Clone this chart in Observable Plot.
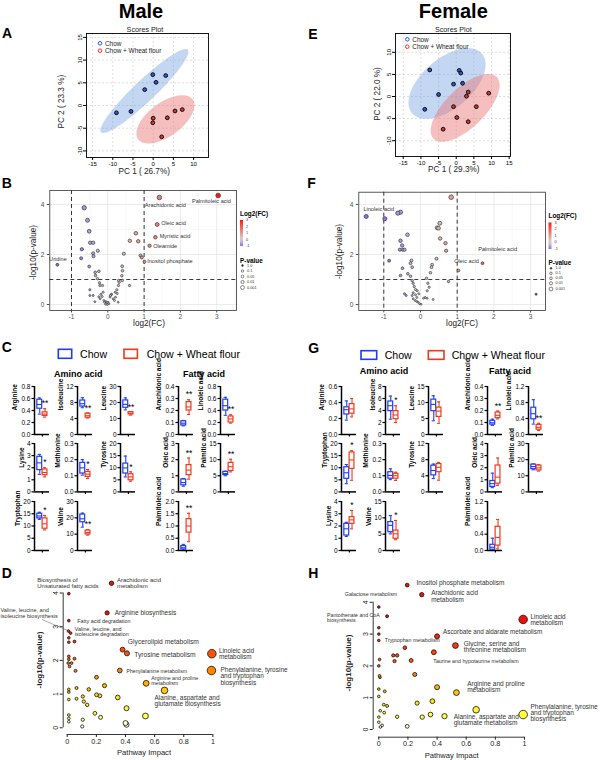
<!DOCTYPE html>
<html>
<head>
<meta charset="utf-8">
<script src="https://cdn.jsdelivr.net/npm/d3@7"></script>
<script src="https://cdn.jsdelivr.net/npm/@observablehq/plot@0.6"></script>
<style>
  html, body { margin: 0; padding: 0; background: #fff; }
  #fig { position: relative; width: 600px; height: 760px; overflow: hidden; background: #fff;
         font-family: "Liberation Sans", Arial, Helvetica, sans-serif; }
  #fig > svg { position: absolute; }
</style>
</head>
<body>
<div id="fig"></div>
<script>
// ---------------- Scores (PCA) ----------------
const maleChowScores   = [[-9.1,-1.6],[-5.5,-1.3],[-2.1,3.5],[0.7,5.1],[-0.1,6.8],[3.1,6.6]];
const maleWheatScores  = [[0.0,-2.8],[-0.1,-3.8],[2.1,-6.9],[3.5,-2.7],[5.4,-1.2],[7.2,-0.9]];
const femaleChowScores = [[-7.5,6.0],[0.85,5.9],[1.3,5.3],[-0.76,2.8],[1.8,3.0],[-5.0,0.45],[-8.9,-2.9]];
const femaleWheatScores= [[3.4,1.0],[2.9,0.07],[9.2,0.75],[-0.76,-2.3],[5.7,-2.3],[0.17,-4.75],[3.4,-5.7],[-3.7,-7.4]];
const maleScoreTicksX   = ["-15","-10","-5","0","5","10"];
const maleScoreTicksY   = ["-10","-5","0","5","10","15"];
const femaleScoreTicksX = ["-15","-10","-5","0","5","10","15"];
const femaleScoreTicksY = ["-10","-5","0","5","10"];

// ---------------- Volcano: [log2(FC), -log10(p)] ----------------
const maleVolcano = [
 [-0.651,3.87],[-0.559,3.37],[-0.513,2.93],[-0.486,2.47],[-0.403,2.47],[-0.715,2.21],[-0.275,2.15],
 [-0.403,2.05],[-0.394,1.93],[-0.734,1.85],[-0.513,1.52],[-0.348,1.29],[-0.247,1.33],[-0.339,1.16],
 [-0.284,1.03],[-0.229,0.87],[-0.220,0.76],[-0.146,0.76],[-0.495,0.59],[-0.128,0.49],[-0.495,0.36],
 [-0.403,0.36],[-0.247,0.31],[-0.357,0.11],[-0.210,0.23],[-0.155,0.32],[-0.109,0.16],[-0.054,0.12],
 [-0.017,0.07],[0.028,0.03],[0.074,0.36],[0.102,0.41],[0.148,0.23],[0.212,0.29],[0.203,0.49],
 [0.249,0.59],[0.295,0.76],[0.313,0.89],[0.300,0.96],[0.286,0.09],[0.400,0.96],[0.387,1.15],
 [0.405,1.35],[0.396,1.53],[0.598,0.76],[0.442,2.03],[0.607,2.55],[0.772,2.85],[0.837,2.53],
 [0.901,1.96],[0.937,1.88],[-0.091,0.09],[-0.063,0.01],[-0.017,0.0],[0.010,0.09],[-0.192,0.41],
 [0.185,0.16],[0.258,0.44],[0.060,0.30],[0.090,0.38]
];
const maleVolcanoNamed = [
 {name:"Palmitoleic acid", fc:3.04, p:4.36},
 {name:"Arachidonic acid", fc:1.42, p:4.28},
 {name:"Oleic acid", fc:1.36, p:3.20},
 {name:"Myristic acid", fc:1.31, p:2.69},
 {name:"Oleamide", fc:1.15, p:2.35},
 {name:"Inositol phosphate", fc:1.01, p:1.71},
 {name:"Uridine", fc:-1.39, p:1.59}
];
const femaleVolcano = [
 [0.836,4.29],[-0.972,3.43],[-0.618,3.65],[-0.545,3.69],[-0.354,2.79],[0.527,3.25],[0.454,3.07],
 [0.490,3.05],[0.536,2.64],[0.681,2.45],[0.699,2.15],[-0.545,2.55],[-0.500,2.36],[-0.563,2.19],
 [-0.481,2.19],[-0.436,2.19],[-0.854,1.75],[-0.245,1.76],[-0.272,1.65],[-0.227,1.49],[-0.490,1.45],
 [0.318,1.59],[0.300,1.49],[0.436,1.83],[1.035,1.36],[0.272,1.27],[-0.545,1.16],[-0.345,1.23],
 [-0.272,1.13],[0.163,1.05],[-0.227,0.96],[-0.200,0.85],[0.200,0.85],[0.236,0.69],[0.763,0.92],
 [-0.172,0.72],[-0.136,0.60],[-0.090,0.55],[0.182,0.55],[-0.436,0.43],[-0.390,0.36],[-0.200,0.47],
 [-0.136,0.39],[-0.100,0.28],[-0.045,0.43],[0.082,0.25],[0.182,0.25],[0.127,0.28],[0.345,0.20],
 [-0.200,0.23],[-0.145,0.16],[-0.063,0.09],[-0.027,0.03],[0.018,0.01],[-0.100,0.12],[-0.227,0.36]
];
const femaleVolcanoNamed = [
 {name:"Linoleic acid", fc:-1.48, p:3.52},
 {name:"Oleic acid", fc:1.69, p:1.65},
 {name:"Palmitoleic acid", fc:3.15, p:0.41}
];
const volcanoTicksX = ["-1","0","1","2","3"];
const volcanoTicksY = ["0","2","4"];
const volcanoMinorX = [-1.5,-0.5,0.5,1.5,2.5,3.5];
const volcanoMinorY = [1,3];
const fcCutoffs = [-1, 1];
const pCutoff = [1];
const fcLegendTicks = ["3","2","1","0","-1"];
const pLegendValues = ["1.0","0.1","0.05","0.01","0.001"];

// ---------------- Box plots: [min, Q1, median, Q3, max] ----------------
const maleAmino = [
 {name:"Arginine",   ticks:["0.0","0.2","0.4","0.6","0.8"], chow:[0.34,0.43,0.50,0.58,0.61], wheat:[0.29,0.31,0.34,0.37,0.43], sig:"**"},
 {name:"Isoleucine", ticks:["0","4","8","12"],              chow:[6.7,7.0,7.7,8.5,9.2],       wheat:[4.1,4.2,4.7,5.2,5.4],       sig:"**"},
 {name:"Leucine",    ticks:["0","10","20","30"],            chow:[15.4,16.7,18.8,21.3,22.9],  wheat:[12.1,12.5,13.3,14.0,14.2],  sig:"**"},
 {name:"Lysine",     ticks:["0","1","2","3","4"],           chow:[1.45,1.8,2.4,2.9,3.1],      wheat:[1.24,1.38,1.6,1.85,2.0],    sig:"*"},
 {name:"Methionine", ticks:["0.0","0.1","0.2","0.3"],       chow:[0.104,0.114,0.149,0.18,0.2],wheat:[0.083,0.093,0.11,0.124,0.139], sig:"*"},
 {name:"Tyrosine",   ticks:["0","5","10","15","20"],        chow:[6.2,7.6,9.9,11.7,14.8],     wheat:[4.4,4.8,6.2,7.3,8.3],       sig:"*"},
 {name:"Tryptophan", ticks:["0","5","10","15","20"],        chow:[12.7,13.1,14.1,15.0,15.6],  wheat:[8.4,8.9,10.9,13.1,14.3],    sig:"*"},
 {name:"Valine",     ticks:["0","10","20","30"],            chow:[14.3,17.3,19.4,22.0,22.9],  wheat:[9.4,9.8,11.0,12.2,12.7],    sig:"**"}
];
const maleFatty = [
 {name:"Arachidonic acid", ticks:["0.0","0.1","0.2","0.3","0.4"], chow:[0.072,0.075,0.094,0.11,0.117], wheat:[0.167,0.20,0.23,0.27,0.29], sig:"**"},
 {name:"Linoleic acid",    ticks:["0.0","0.2","0.4","0.6","0.8"], chow:[0.32,0.40,0.48,0.58,0.62],    wheat:[0.19,0.20,0.26,0.30,0.33],  sig:"**"},
 {name:"Oleic acid",       ticks:["0","1","2","3"],               chow:[0.35,0.41,0.58,0.77,0.83],    wheat:[0.79,1.04,1.35,1.66,2.1],   sig:"**"},
 {name:"Palmitic acid",    ticks:["0","5","10","15"],             chow:[5.0,5.2,5.7,6.2,6.4],         wheat:[6.2,6.5,7.8,9.0,10.1],      sig:"**"},
 {name:"Palmitoleic acid", ticks:["0.0","0.5","1.0","1.5","2.0"], chow:[0.01,0.04,0.11,0.18,0.25],    wheat:[0.36,0.73,1.0,1.28,1.52],   sig:"**"}
];
const femaleAmino = [
 {name:"Arginine",   ticks:["0.0","0.2","0.4","0.6"],  chow:[0.18,0.25,0.31,0.34,0.42],   wheat:[0.22,0.26,0.32,0.38,0.45],   sig:""},
 {name:"Isoleucine", ticks:["0","2","4","6","8"],      chow:[2.55,3.9,4.8,5.5,6.4],       wheat:[2.0,2.55,3.25,3.9,4.8],      sig:"*"},
 {name:"Leucine",    ticks:["0","5","10","15"],        chow:[4.3,7.3,9.4,10.9,12.1],      wheat:[3.5,5.5,7.3,8.4,10.2],       sig:""},
 {name:"Tryptophan", ticks:["0","5","10","15","20"],   chow:[3.4,5.4,7.9,10.2,11.3],      wheat:[4.8,9.5,13.2,16.3,17.0],     sig:"*"},
 {name:"Methionine", ticks:["0.0","0.1","0.2","0.3"],  chow:[0.076,0.082,0.102,0.122,0.143], wheat:[0.071,0.082,0.1,0.112,0.122], sig:""},
 {name:"Tyrosine",   ticks:["0","4","8","12"],         chow:[3.3,4.1,5.3,6.5,6.9],        wheat:[2.9,4.9,6.1,6.9,7.3],        sig:""},
 {name:"Lysine",     ticks:["0","1","2","3","4"],      chow:[1.15,1.22,1.77,2.18,2.3],    wheat:[1.77,2.18,2.5,2.72,3.27],    sig:"*"},
 {name:"Valine",     ticks:["0","5","10","15"],        chow:[5.1,5.6,7.7,8.7,10.7],       wheat:[3.3,3.6,5.1,6.1,9.2],        sig:"*"}
];
const femaleFatty = [
 {name:"Arachidonic acid", ticks:["0.0","0.1","0.2","0.3","0.4"], chow:[0.076,0.082,0.098,0.114,0.128], wheat:[0.13,0.136,0.16,0.183,0.196], sig:"**"},
 {name:"Linoleic acid",    ticks:["0.0","0.4","0.8","1.2"],       chow:[0.26,0.38,0.52,0.67,0.87],      wheat:[0.1,0.12,0.18,0.24,0.28],     sig:"**"},
 {name:"Oleic acid",       ticks:["0","1","2","3","4"],           chow:[0.35,0.41,0.68,0.9,1.55],       wheat:[0.54,0.68,1.22,2.18,2.8],     sig:""},
 {name:"Palmitic acid",    ticks:["0","10","20","30"],            chow:[13.7,14.1,15.7,16.9,17.3],      wheat:[12.9,13.3,14.9,16.3,16.9],    sig:""},
 {name:"Palmitoleic acid", ticks:["0.0","0.4","0.8","1.2"],       chow:[0.0,0.02,0.08,0.14,0.3],        wheat:[0.04,0.12,0.32,0.58,0.76],    sig:""}
];

// ---------------- Pathway impact: [impact, -log10(p)] ----------------
const malePathwaysNamed = [
 {name:"Arachidonic acid\nmetabolism", impact:0.304, p:4.29},
 {name:"Biosynthesis of\nUnsaturated fatty acids", impact:0.011, p:3.98},
 {name:"Arginine biosynthesis", impact:0.274, p:3.41},
 {name:"Fatty acid degradation", impact:0.011, p:3.18},
 {name:"Valine, leucine, and\nisoleucine biosynthesis", impact:0.009, p:2.87},
 {name:"Valine, leucine, and\nisoleucine degradation", impact:0.023, p:2.81},
 {name:"Glycerolipid metabolism", impact:0.380, p:2.32},
 {name:"Tyrosine metabolism", impact:0.410, p:2.21},
 {name:"Linoleic acid\nmetabolism", impact:0.993, p:2.20},
 {name:"Phenylalanine metabolism", impact:0.361, p:1.70},
 {name:"Phenylalanine, tyrosine\nand tryptophan\nbiosynthesis", impact:0.990, p:1.70},
 {name:"Arginine and proline\nmetabolism", impact:0.542, p:1.32},
 {name:"Alanine, aspartate and\nglutamate biosynthesis", impact:0.668, p:1.11}
];
const malePathwaysOther = [
 [0.011,2.67],[0.011,2.54],[0.050,2.56],[0.011,2.12],[0.011,2.03],[0.050,2.05],[0.007,1.92],[0.030,1.92],
 [0.016,1.82],[0.057,1.69],[0.201,1.50],[0.256,1.25],[0.064,1.18],[0.148,1.14],[0.011,1.14],[0.011,1.06],
 [0.201,0.98],[0.224,0.95],[0.107,0.93],[0.347,0.90],[0.064,0.86],[0.011,0.84],[0.114,0.78],[0.137,0.68],
 [0.407,0.58],[0.190,0.43],[0.229,0.31],[0.537,0.35],[0.011,0.38],[0.011,0.28],[0.011,0.18],[0.107,0.24],
 [0.103,0.04],[0.400,0.14],[0.407,0.09]
];
const femalePathwaysNamed = [
 {name:"Inositol phosphate metabolism", impact:0.195, p:4.54},
 {name:"Galactose metabolism", impact:0.0, p:3.85},
 {name:"Arachidonic acid\nmetabolism", impact:0.295, p:4.24},
 {name:"Pantothenate and CoA\nbiosynthesis", impact:0.057, p:3.56},
 {name:"Linoleic acid\nmetabolism", impact:0.991, p:3.46},
 {name:"Ascorbate and aldarate metabolism", impact:0.400, p:2.93},
 {name:"Tryptophan metabolism", impact:0.179, p:2.57},
 {name:"Glycine, serine and\nthreonine metabolism", impact:0.526, p:2.64},
 {name:"Taurine and hypotaurine metabolism", impact:0.378, p:2.43},
 {name:"Arginine and proline\nmetabolism", impact:0.533, p:1.16},
 {name:"Alanine, aspartate and\nglutamate metabolism", impact:0.668, p:0.62},
 {name:"Phenylalanine, tyrosine\nand tryptophan\nbiosynthesis", impact:0.991, p:0.47}
];
const femalePathwaysOther = [
 [0.0,3.20],[0.0,3.00],[0.0,2.80],[0.099,2.33],[0.126,2.33],[0.108,2.15],[0.222,2.17],[0.005,2.20],
 [0.0,2.00],[0.005,1.69],[0.008,1.64],[0.247,1.73],[0.0,1.27],[0.041,1.20],[0.400,1.33],[0.0,1.04],
 [0.034,0.78],[0.057,0.74],[0.263,0.83],[0.368,0.89],[0.010,0.59],[0.037,0.53],[0.355,0.47],[0.451,0.42],
 [0.126,0.40],[0.298,0.39],[0.0,0.39],[0.0,0.23],[0.023,0.13],[0.011,0.08],[0.195,0.10]
];
const pathwayTicksX = ["0","0.2","0.4","0.6","0.8","1"];
const pathwayTicksY = ["0","1","2","3","4"];

// ================= drawing =================
const FONT = '"Liberation Sans", Arial, Helvetica, sans-serif';
const BLUE = "#1f3df5", RED = "#f2381d";
const FC_DOMAIN = [-1, 0, 3];
const FC_COLORS = ["#8c6fe0", "#d6d6d6", "#ff1a12"];
const HEAT_DOMAIN = [0.05, 0.4, 0.9, 1.3, 1.7, 2.3, 3.4];
const HEAT_COLORS = ["#ffffff", "#ffff45", "#ffe21a", "#ffb300", "#ff8400", "#ff4a0a", "#ea1208"];
const fig = document.getElementById("fig");
const baseStyle = () => ({background: "transparent", overflow: "visible", fontFamily: FONT});
function place(svg, left, top) {
  svg.style.position = "absolute"; svg.style.left = left + "px"; svg.style.top = top + "px";
  fig.appendChild(svg); return svg;
}
const labelMap = (labels) => new Map(labels.map(s => [Number(s), s]));

// 95% normal-theory confidence ellipse of a group of score points
function ellipse95(pts) {
  const n = pts.length;
  const mx = d3.mean(pts, d => d[0]), my = d3.mean(pts, d => d[1]);
  let sxx = 0, syy = 0, sxy = 0;
  for (const [x, y] of pts) { sxx += (x - mx) ** 2; syy += (y - my) ** 2; sxy += (x - mx) * (y - my); }
  sxx /= n - 1; syy /= n - 1; sxy /= n - 1;
  const tr = sxx + syy, det = sxx * syy - sxy * sxy;
  const disc = Math.sqrt(Math.max(0, tr * tr / 4 - det));
  const l1 = tr / 2 + disc, l2 = Math.max(0, tr / 2 - disc);
  let v = Math.abs(sxy) > 1e-12 ? [l1 - syy, sxy] : (sxx >= syy ? [1, 0] : [0, 1]);
  const len = Math.hypot(v[0], v[1]); v = [v[0] / len, v[1] / len];
  const w = [-v[1], v[0]], k = Math.sqrt(5.991);
  return d3.range(0, 121).map(i => {
    const t = 2 * Math.PI * i / 120;
    const a = k * Math.sqrt(l1) * Math.cos(t), b = k * Math.sqrt(l2) * Math.sin(t);
    return [mx + a * v[0] + b * w[0], my + a * v[1] + b * w[1]];
  });
}

function scoresPlot(chow, wheat, ticksX, ticksY, g) {
  const xt = ticksX.map(Number), yt = ticksY.map(Number);
  const fx = labelMap(ticksX), fy = labelMap(ticksY);
  return Plot.plot({
    width: g.w, height: g.h, marginLeft: g.ml, marginRight: g.mr, marginTop: g.mt, marginBottom: g.mb,
    x: {domain: g.xd}, y: {domain: g.yd}, style: baseStyle(),
    marks: [
      Plot.ruleX(xt, {stroke: "#c8c8c8", strokeWidth: 0.6, strokeDasharray: "2,2"}),
      Plot.ruleY(yt, {stroke: "#c8c8c8", strokeWidth: 0.6, strokeDasharray: "2,2"}),
      Plot.line(ellipse95(chow), {x: d => d[0], y: d => d[1], fill: "#6a9be0", fillOpacity: 0.4, stroke: "none"}),
      Plot.line(ellipse95(wheat), {x: d => d[0], y: d => d[1], fill: "#e87070", fillOpacity: 0.45, stroke: "none"}),
      Plot.dot(chow, {x: d => d[0], y: d => d[1], r: 1.9, fill: "#3a55c8", stroke: "#000", strokeWidth: 0.9}),
      Plot.dot(wheat, {x: d => d[0], y: d => d[1], r: 1.9, fill: "#c83a3a", stroke: "#000", strokeWidth: 0.9}),
      Plot.frame({stroke: "#000", strokeWidth: 0.9}),
      Plot.axisX({ticks: xt, tickFormat: d => fx.get(d), tickSize: 3, tickPadding: 1.5, fontSize: 6, label: null}),
      Plot.axisY({ticks: yt, tickFormat: d => fy.get(d), tickSize: 3, tickPadding: 2, tickRotate: -90, fontSize: 6, label: null})
    ]
  });
}

function volcanoPlot(points, named, layout, g) {
  const all = points.map(([fc, p]) => ({fc, p})).concat(named);
  const xt = volcanoTicksX.map(Number), yt = volcanoTicksY.map(Number);
  const fx = labelMap(volcanoTicksX), fy = labelMap(volcanoTicksY);
  return Plot.plot({
    width: g.w, height: g.h, marginLeft: g.ml, marginRight: g.mr, marginTop: g.mt, marginBottom: g.mb,
    x: {domain: g.xd}, y: {domain: g.yd}, style: baseStyle(),
    color: {type: "linear", domain: FC_DOMAIN, range: FC_COLORS, clamp: true},
    r: {type: "linear", domain: [0, 4.5], range: [0.9, 2.4]},
    marks: [
      Plot.ruleX(volcanoMinorX, {stroke: "#f1f1f1", strokeWidth: 0.5}),
      Plot.ruleY(volcanoMinorY, {stroke: "#f1f1f1", strokeWidth: 0.5}),
      Plot.ruleX(xt, {stroke: "#e2e2e2", strokeWidth: 0.7}),
      Plot.ruleY(yt, {stroke: "#e2e2e2", strokeWidth: 0.7}),
      Plot.ruleX(fcCutoffs, {stroke: "#222", strokeWidth: 0.9, strokeDasharray: "4,3"}),
      Plot.ruleY(pCutoff, {stroke: "#222", strokeWidth: 0.9, strokeDasharray: "4,3"}),
      Plot.dot(all, {x: "fc", y: "p", r: "p", fill: "fc", stroke: "#222", strokeWidth: 0.6}),
      ...named.map(d => {
        const L = layout[d.name];
        return Plot.text([d], {x: "fc", y: "p", text: "name", textAnchor: L.a, dx: L.dx, dy: L.dy, fontSize: 5.6, fill: "#333"});
      }),
      Plot.frame({stroke: "#333", strokeWidth: 0.8}),
      Plot.axisX({ticks: xt, tickFormat: d => fx.get(d), tickSize: 2.5, tickPadding: 1.5, fontSize: 6.5, color: "#4d4d4d", label: null}),
      Plot.axisY({ticks: yt, tickFormat: d => fy.get(d), tickSize: 2.5, tickPadding: 3, fontSize: 6.5, color: "#4d4d4d", label: null})
    ]
  });
}

function boxPanel(spec, axisLeft, rowTop, rowBottom) {
  const ticks = spec.ticks.map(Number), fy = labelMap(spec.ticks);
  const ymax = d3.max(ticks);
  const groups = [{g: 1, v: spec.chow, c: BLUE}, {g: 2, v: spec.wheat, c: RED}];
  const mt = 8, mb = 7, ml = 32, mr = 14, inner = 15;
  const labelGap = d3.max(spec.ticks, s => s.length) * 3.6 + 9;
  const svg = Plot.plot({
    width: ml + inner + mr, height: (rowBottom - rowTop) + mt + mb,
    marginLeft: ml, marginRight: mr, marginTop: mt, marginBottom: mb,
    x: {domain: [0, 2.85]}, y: {domain: [0, ymax]}, color: {type: "identity"},
    style: baseStyle(),
    marks: [
      Plot.ruleX(groups, {x: "g", y1: d => d.v[0], y2: d => d.v[1], stroke: "c", strokeWidth: 1.1}),
      Plot.ruleX(groups, {x: "g", y1: d => d.v[3], y2: d => d.v[4], stroke: "c", strokeWidth: 1.1}),
      Plot.ruleY(groups, {y: d => d.v[0], x1: d => d.g - 0.3, x2: d => d.g + 0.3, stroke: "c", strokeWidth: 1.1}),
      Plot.ruleY(groups, {y: d => d.v[4], x1: d => d.g - 0.3, x2: d => d.g + 0.3, stroke: "c", strokeWidth: 1.1}),
      Plot.rect(groups, {x1: d => d.g - 0.46, x2: d => d.g + 0.46, y1: d => d.v[1], y2: d => d.v[3], fill: "white", stroke: "c", strokeWidth: 1.2}),
      Plot.ruleY(groups, {y: d => d.v[2], x1: d => d.g - 0.46, x2: d => d.g + 0.46, stroke: "c", strokeWidth: 1.1}),
      Plot.ruleX([0], {stroke: "#000", strokeWidth: 1.5}),
      Plot.ruleY([0], {stroke: "#000", strokeWidth: 1.5}),
      Plot.axisY({ticks, tickFormat: d => fy.get(d), tickSize: 2.5, tickPadding: 1.5, fontSize: 6.5, strokeWidth: 1.2, color: "#000", label: null}),
      Plot.axisX({ticks: [1.5], tickFormat: () => "", tickSize: 2.5, strokeWidth: 1.2, color: "#000", label: null}),
      spec.sig ? Plot.text([spec.sig], {x: () => 2, y: () => spec.wheat[4], text: d => d, dy: -5, fontSize: 8.5, fill: "#000"}) : null,
      Plot.text([spec.name], {frameAnchor: "left", rotate: -90, dx: -labelGap, text: d => d, fontWeight: "bold", fontSize: 6.5, fill: "#000"})
    ]
  });
  return place(svg, axisLeft - ml, rowTop - mt);
}

function pathwayPlot(named, others, layout, g) {
  const all = others.map(([impact, p]) => ({impact, p})).concat(named);
  const xt = pathwayTicksX.map(Number), yt = pathwayTicksY.map(Number);
  const fx = labelMap(pathwayTicksX), fy = labelMap(pathwayTicksY);
  return Plot.plot({
    width: g.w, height: g.h, marginLeft: g.ml, marginRight: g.mr, marginTop: g.mt, marginBottom: g.mb,
    x: {domain: g.xd}, y: {domain: g.yd}, style: baseStyle(),
    color: {type: "linear", domain: HEAT_DOMAIN, range: HEAT_COLORS, clamp: true},
    r: {type: "linear", domain: [0, 1], range: [1.3, 4.3]},
    marks: [
      Plot.ruleX([g.xd[0]], {y1: yt[0], y2: yt[yt.length - 1], stroke: "#222", strokeWidth: 0.9}),
      Plot.ruleY([g.yd[0]], {x1: xt[0], x2: xt[xt.length - 1], stroke: "#222", strokeWidth: 0.9}),
      Plot.axisY({ticks: yt, tickFormat: d => fy.get(d), tickSize: 3, tickPadding: 2.5, tickRotate: -90, fontSize: 7, color: "#222", label: null}),
      Plot.axisX({ticks: xt, tickFormat: d => fx.get(d), tickSize: 3, tickPadding: 1, fontSize: 7.2, color: "#222", label: null}),
      Plot.dot(all, {x: "impact", y: "p", r: "impact", fill: "p", stroke: "#111", strokeWidth: 0.8}),
      ...named.map(d => {
        const L = layout[d.name];
        return Plot.text([d], {x: "impact", y: "p", text: "name", textAnchor: L.a, dx: L.dx, dy: L.dy, fontSize: L.s, lineHeight: 0.95, fill: "#333"});
      })
    ]
  });
}

// ---- A / E : PCA scores ----
place(scoresPlot(maleChowScores, maleWheatScores, maleScoreTicksX, maleScoreTicksY,
  {w: 180, h: 160, ml: 46, mr: 12, mt: 13, mb: 23, xd: [-16.51, 13.69], yd: [-11.45, 15.86]}), 40, 20);
place(scoresPlot(femaleChowScores, femaleWheatScores, femaleScoreTicksX, femaleScoreTicksY,
  {w: 170, h: 160, ml: 45, mr: 10, mt: 13, mb: 24, xd: [-17.2, 15.38], yd: [-13.57, 14.25]}), 350, 20);

// ---- B / F : volcano ----
const maleVolcanoLayout = {
  "Palmitoleic acid": {a: "middle", dx: -6.7, dy: 5.7},
  "Arachidonic acid": {a: "middle", dx: 6, dy: 7.3},
  "Oleic acid": {a: "start", dx: 4, dy: -1.3},
  "Myristic acid": {a: "start", dx: 4.3, dy: -0.7},
  "Oleamide": {a: "start", dx: 3.7, dy: 0.7},
  "Inositol phosphate": {a: "start", dx: 2.7, dy: -0.3},
  "Uridine": {a: "middle", dx: 0.6, dy: -6}
};
const femaleVolcanoLayout = {
  "Linoleic acid": {a: "middle", dx: 12.6, dy: -7.7},
  "Oleic acid": {a: "end", dx: -3.7, dy: -1.7},
  "Palmitoleic acid": {a: "middle", dx: -38.5, dy: -45.4}
};
place(volcanoPlot(maleVolcano, maleVolcanoNamed, maleVolcanoLayout,
  {w: 230, h: 145, ml: 29.3, mr: 14, mt: 10, mb: 15, xd: [-1.598, 3.545], yd: [-0.24, 4.56]}), 20, 180);
place(volcanoPlot(femaleVolcano, femaleVolcanoNamed, femaleVolcanoLayout,
  {w: 225, h: 145, ml: 28.3, mr: 10, mt: 11.7, mb: 15, xd: [-1.681, 3.406], yd: [-0.24, 4.49]}), 330, 180);

// ---- C / G : box plots ----
const rows = [[386, 434], [443.3, 491.7], [501, 550]];
const maleAminoCols = [34.3, 77.3, 120], maleFattyCols = [178.3, 220];
const femaleAminoCols = [341, 385, 428.3], femaleFattyCols = [486.7, 528.3];
maleAmino.forEach((s, i) => boxPanel(s, maleAminoCols[i % 3], ...rows[Math.floor(i / 3)]));
maleFatty.forEach((s, i) => boxPanel(s, maleFattyCols[i % 2], ...rows[Math.floor(i / 2)]));
femaleAmino.forEach((s, i) => boxPanel(s, femaleAminoCols[i % 3], ...rows[Math.floor(i / 3)]));
femaleFatty.forEach((s, i) => boxPanel(s, femaleFattyCols[i % 2], ...rows[Math.floor(i / 2)]));

// ---- D / H : pathway impact ----
const malePathLayout = {
  "Arachidonic acid\nmetabolism": {a: "start", dx: 5.5, dy: 0, s: 6},
  "Biosynthesis of\nUnsaturated fatty acids": {a: "start", dx: -31.6, dy: -10.8, s: 6},
  "Arginine biosynthesis": {a: "start", dx: 7.6, dy: 0, s: 6.5},
  "Valine, leucine, and\nisoleucine biosynthesis": {a: "start", dx: -68, dy: -17.7, s: 5.6},
  "Fatty acid degradation": {a: "start", dx: 8.4, dy: 1, s: 5.4},
  "Valine, leucine, and\nisoleucine degradation": {a: "start", dx: 4.3, dy: -1, s: 5.4},
  "Glycerolipid metabolism": {a: "start", dx: 5.3, dy: -7.3, s: 6.7},
  "Tyrosine metabolism": {a: "start", dx: 7.3, dy: 1.3, s: 6.7},
  "Linoleic acid\nmetabolism": {a: "start", dx: 7, dy: 0, s: 6.4},
  "Phenylalanine metabolism": {a: "start", dx: 6.7, dy: 0.7, s: 5.2},
  "Phenylalanine, tyrosine\nand tryptophan\nbiosynthesis": {a: "start", dx: 9, dy: 6, s: 6.5},
  "Arginine and proline\nmetabolism": {a: "start", dx: 5, dy: -2.7, s: 5.3},
  "Alanine, aspartate and\nglutamate biosynthesis": {a: "start", dx: -10, dy: 10.5, s: 6.5}
};
const femalePathLayout = {
  "Inositol phosphate metabolism": {a: "start", dx: 9.3, dy: -2, s: 6.5},
  "Galactose metabolism": {a: "middle", dx: -7.8, dy: -12.4, s: 5.3},
  "Arachidonic acid\nmetabolism": {a: "start", dx: 9.4, dy: 1.9, s: 6.4},
  "Pantothenate and CoA\nbiosynthesis": {a: "start", dx: -60, dy: 1.2, s: 5.2},
  "Linoleic acid\nmetabolism": {a: "start", dx: 7.3, dy: 0.5, s: 6.4},
  "Ascorbate and aldarate metabolism": {a: "start", dx: 6, dy: -4, s: 6.3},
  "Tryptophan metabolism": {a: "start", dx: -20, dy: -7, s: 5.3},
  "Glycine, serine and\nthreonine metabolism": {a: "start", dx: 8.3, dy: 1.7, s: 6.5},
  "Taurine and hypotaurine metabolism": {a: "start", dx: -0.6, dy: 9.3, s: 5.3},
  "Arginine and proline\nmetabolism": {a: "start", dx: 10.7, dy: -5.3, s: 6.5},
  "Alanine, aspartate and\nglutamate metabolism": {a: "start", dx: -22.4, dy: 10.4, s: 6.5},
  "Phenylalanine, tyrosine\nand tryptophan\nbiosynthesis": {a: "start", dx: 7.3, dy: -1.6, s: 6.5}
};
const plotD = place(pathwayPlot(malePathwaysNamed, malePathwaysOther, malePathLayout,
  {w: 300, h: 195, ml: 62.7, mr: 82, mt: 7.3, mb: 26, xd: [-0.0275, 1.0384], yd: [-0.199, 4.6]}), 0, 565);
place(pathwayPlot(femalePathwaysNamed, femalePathwaysOther, femalePathLayout,
  {w: 300, h: 195, ml: 72.7, mr: 70.2, mt: 17.7, mb: 23.3, xd: [-0.0384, 1.04], yd: [-0.242, 4.6]}), 300, 565);

// ================= titles, axis titles and legends =================
const ov = d3.create("svg").attr("width", 600).attr("height", 760)
  .style("position", "absolute").style("left", "0px").style("top", "0px")
  .style("overflow", "visible").style("font-family", FONT);
function T(x, y, s, o = {}) {
  const t = ov.append("text").attr("x", x).attr("y", y).text(s)
    .attr("font-size", o.size || 8).attr("fill", o.fill || "#000");
  if (o.bold) t.attr("font-weight", "bold");
  if (o.anchor) t.attr("text-anchor", o.anchor);
  if (o.baseline) t.attr("dominant-baseline", o.baseline);
  if (o.rotate) t.attr("transform", `rotate(${o.rotate},${x},${y})`);
  return t;
}
T(141, 18, "Male", {size: 20, bold: true, anchor: "middle"});
T(453.3, 18, "Female", {size: 20, bold: true, anchor: "middle"});
[["A", 2, 38.3], ["E", 308.3, 39.3], ["B", 1.7, 188.3], ["F", 307.3, 188.3],
 ["C", 1.7, 351.7], ["G", 308.3, 352.7], ["D", 1.7, 578.3], ["H", 308.3, 578.3]]
  .forEach(([s, x, y]) => T(x, y, s, {size: 14, bold: true}));

// scores titles / legends / axis titles
T(145, 31.7, "Scores Plot", {size: 7.2, anchor: "middle", fill: "#222"});
T(453.3, 31.7, "Scores Plot", {size: 7.2, anchor: "middle", fill: "#222"});
function scoresLegend(x, y1, y2) {
  ov.append("circle").attr("cx", x).attr("cy", y1).attr("r", 1.8).attr("fill", "none").attr("stroke", "#1e5cff").attr("stroke-width", 1);
  ov.append("circle").attr("cx", x).attr("cy", y2).attr("r", 1.8).attr("fill", "none").attr("stroke", "#ff2a2a").attr("stroke-width", 1);
  T(x + 5, y1, "Chow", {size: 6.4, baseline: "central", fill: "#222"});
  T(x + 5, y2, "Chow + Wheat flour", {size: 6.4, baseline: "central", fill: "#222"});
}
scoresLegend(100, 43.3, 50.7);
scoresLegend(407.3, 39.3, 46.7);
T(144.2, 174, "PC 1 ( 26.7%)", {size: 8.2, anchor: "middle", fill: "#222"});
T(453.8, 172, "PC 1 ( 29.3%)", {size: 8.2, anchor: "middle", fill: "#222"});
T(61.7, 101.7, "PC 2 ( 23.3 %)", {size: 8.2, anchor: "middle", baseline: "central", rotate: -90, fill: "#222"});
T(377, 94, "PC 2 ( 22.0 %)", {size: 8.2, anchor: "middle", baseline: "central", rotate: -90, fill: "#222"});

// volcano axis titles and legends
T(33, 252.5, "-log10(p-value)", {size: 8.2, anchor: "middle", baseline: "central", rotate: -90, fill: "#222"});
T(339.3, 251.5, "-log10(p-value)", {size: 8.2, anchor: "middle", baseline: "central", rotate: -90, fill: "#222"});
T(149, 326, "log2(FC)", {size: 8.2, anchor: "middle", fill: "#222"});
T(462, 326, "log2(FC)", {size: 8.2, anchor: "middle", fill: "#222"});
const fcColor = d3.scaleLinear().domain(FC_DOMAIN).range(FC_COLORS).clamp(true);
const grad = ov.append("defs").append("linearGradient").attr("id", "fcgrad")
  .attr("x1", 0).attr("y1", 0).attr("x2", 0).attr("y2", 1);
d3.range(0, 1.0001, 0.1).forEach(t => grad.append("stop").attr("offset", t).attr("stop-color", fcColor(3 - 4 * t)));
const pRadius = d3.scaleLinear().domain([0, 4.5]).range([0.9, 2.4]);
function volcanoLegend(x, yt1, barTop, barBottom, yt2, ys) {
  T(x, yt1, "Log2(FC)", {size: 6.4, bold: true});
  ov.append("rect").attr("x", x).attr("y", barTop).attr("width", 3).attr("height", barBottom - barTop).attr("fill", "url(#fcgrad)");
  fcLegendTicks.forEach(s => T(x + 6, barTop + (3 - Number(s)) / 4 * (barBottom - barTop), s, {size: 3.8, baseline: "central", fill: "#333"}));
  T(x, yt2, "P-value", {size: 6.4, bold: true});
  pLegendValues.forEach((s, i) => {
    ov.append("circle").attr("cx", x + 2.5).attr("cy", ys[i]).attr("r", pRadius(-Math.log10(Number(s))))
      .attr("fill", i === 0 ? "#333" : "#fff").attr("stroke", "#333").attr("stroke-width", 0.6);
    T(x + 7, ys[i], s, {size: 3.8, baseline: "central", fill: "#333"});
  });
}
volcanoLegend(240, 216, 220, 246, 262.5, [265.5, 271, 276.5, 282, 287.5]);
volcanoLegend(548.5, 218.3, 222.5, 249, 264.5, [268.3, 273.3, 278.3, 283.3, 289]);

// box-plot legends and group headings
function boxLegend(x1, x2, t1, t2, y, w, h) {
  ov.append("rect").attr("x", x1).attr("y", y).attr("width", w).attr("height", h).attr("fill", "none").attr("stroke", BLUE).attr("stroke-width", 1.6);
  ov.append("rect").attr("x", x2).attr("y", y).attr("width", w).attr("height", h).attr("fill", "none").attr("stroke", RED).attr("stroke-width", 1.6);
  T(t1, y + h - 0.6, "Chow", {size: 10.6});
  T(t2, y + h - 0.6, "Chow + Wheat flour", {size: 10.6});
}
boxLegend(58.3, 124, 80, 146.7, 349.3, 13.4, 9);
boxLegend(361, 428.3, 384.7, 451.7, 350.7, 15.7, 8.6);
T(78.3, 376.7, "Amino acid", {size: 9, bold: true, anchor: "middle"});
T(204, 376.7, "Fatty acid", {size: 9, bold: true, anchor: "middle"});
T(384, 374.3, "Amino acid", {size: 9, bold: true, anchor: "middle"});
T(510, 374.3, "Fatty acid", {size: 9, bold: true, anchor: "middle"});

// pathway axis titles
T(39.3, 660, "-log10(p-value)", {size: 8, bold: true, anchor: "middle", baseline: "central", rotate: -90, fill: "#222"});
T(348.3, 663, "-log10(p-value)", {size: 8, bold: true, anchor: "middle", baseline: "central", rotate: -90, fill: "#222"});
T(144, 755, "Pathway Impact", {size: 7.6, anchor: "middle", fill: "#222"});
T(451.7, 757.5, "Pathway Impact", {size: 7.6, anchor: "middle", fill: "#222"});

// leader line for the valine/leucine/isoleucine biosynthesis label
{
  const sx = plotD.scale("x"), sy = plotD.scale("y");
  const d = malePathwaysNamed.find(d => d.name.startsWith("Valine, leucine, and\nisoleucine biosynthesis"));
  ov.append("line").attr("x1", 42).attr("y1", 619.5)
    .attr("x2", sx.apply(d.impact)).attr("y2", 565 + sy.apply(d.p))
    .attr("stroke", "#555").attr("stroke-width", 0.5);
}

fig.appendChild(ov.node());
</script>
</body>
</html>
